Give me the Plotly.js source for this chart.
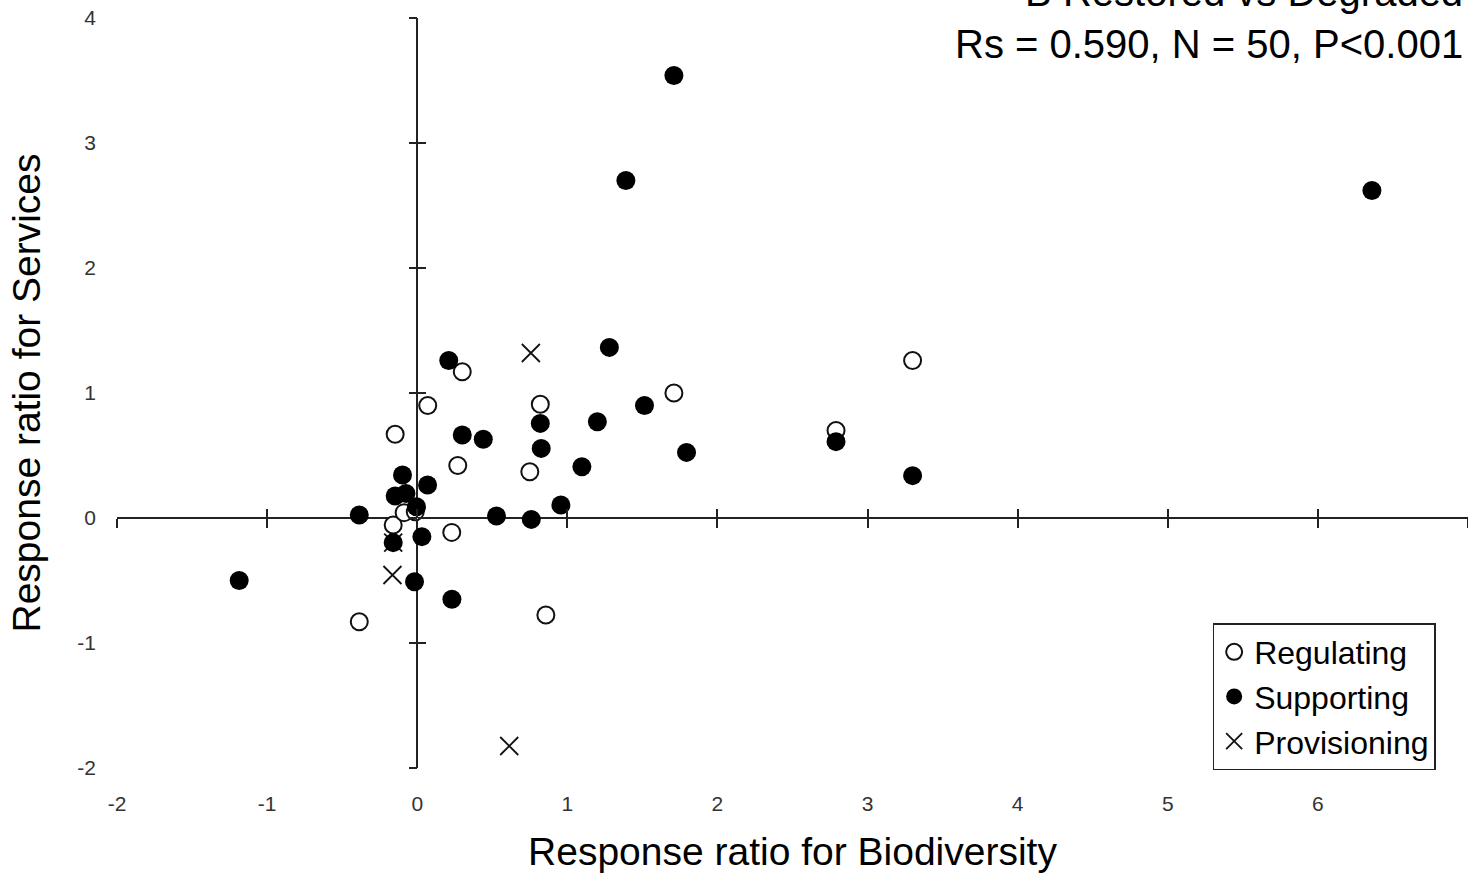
<!DOCTYPE html>
<html>
<head>
<meta charset="utf-8">
<script src="https://cdn.plot.ly/plotly-3.0.1.min.js"></script>
<style>html,body{margin:0;padding:0;background:#fff;}#chart{width:1468px;height:873px;}</style>
</head>
<body>
<div id="chart"></div>
<script>
// Data
const regulatingX = [0.30, 0.07, -0.147, 0.82, 1.71, 3.30, 2.79, 0.75, 0.27, 0.23, -0.16, -0.087, -0.013, -0.386, 0.857];
const regulatingY = [1.17, 0.90, 0.67, 0.91, 1.00, 1.26, 0.70, 0.37, 0.42, -0.115, -0.056, 0.043, 0.05, -0.83, -0.776];

const supportingX = [1.71, 1.39, 6.36, 0.21, 1.28, 1.514, 1.20, 0.82, 0.826, 0.30, 0.44, 1.794, 2.79, 3.30, 1.097, -0.098, 0.069, -0.147, -0.075, -0.005, -0.386, 0.528, 0.76, 0.957, -0.16, 0.031, -0.018, 0.231, -1.186];
const supportingY = [3.54, 2.70, 2.62, 1.26, 1.365, 0.90, 0.77, 0.757, 0.557, 0.664, 0.63, 0.525, 0.611, 0.339, 0.41, 0.344, 0.264, 0.176, 0.197, 0.09, 0.024, 0.016, -0.011, 0.104, -0.197, -0.149, -0.51, -0.65, -0.50];

const provisioningX = [0.757, -0.165, 0.613, -0.16];
const provisioningY = [1.32, -0.456, -1.824, -0.197];

const xTicks = [-2, -1, 0, 1, 2, 3, 4, 5, 6, 7];
const yTicks = [-2, -1, 0, 1, 2, 3, 4];
const seriesNames = ["Regulating", "Supporting", "Provisioning"];
const titleLines = ["B Restored vs Degraded", "Rs = 0.590, N = 50, P<0.001"];
const xTitle = "Response ratio for Biodiversity";
const yTitle = "Response ratio for Services";

const FONT = "Liberation Sans, Arial, sans-serif";
const INK = "#222";

const traces = [
  {
    x: regulatingX, y: regulatingY, name: seriesNames[0], mode: "markers", type: "scatter",
    marker: {symbol: "circle", size: 17, color: "#fff", line: {color: "#111", width: 2}},
    legendrank: 1
  },
  {
    x: provisioningX, y: provisioningY, name: seriesNames[2], mode: "markers", type: "scatter",
    marker: {symbol: "x-thin-open", size: 18, color: "#111", line: {color: "#111", width: 1.8}},
    legendrank: 3
  },
  {
    x: supportingX, y: supportingY, name: seriesNames[1], mode: "markers", type: "scatter",
    marker: {symbol: "circle", size: 19, color: "#000", line: {width: 0}},
    legendrank: 2
  },
  // empty carriers for the tick-mark axes drawn on the crossing axis lines
  {x: [], y: [], xaxis: "x2", yaxis: "y", showlegend: false, hoverinfo: "skip", type: "scatter"},
  {x: [], y: [], xaxis: "x3", yaxis: "y", showlegend: false, hoverinfo: "skip", type: "scatter"},
  {x: [], y: [], xaxis: "x", yaxis: "y2", showlegend: false, hoverinfo: "skip", type: "scatter"},
  {x: [], y: [], xaxis: "x", yaxis: "y3", showlegend: false, hoverinfo: "skip", type: "scatter"}
];

const xr = [xTicks[0], xTicks[xTicks.length - 1]];
const yr = [yTicks[0], yTicks[yTicks.length - 1]];
const yZeroPos = (0 - yr[0]) / (yr[1] - yr[0]);
const xZeroPos = (0 - xr[0]) / (xr[1] - xr[0]);

const tickAxisX = (dir) => ({
  overlaying: "x", anchor: "free", position: yZeroPos, side: "bottom",
  range: xr, tickvals: xTicks, ticks: dir, ticklen: 9, tickwidth: 1.5, tickcolor: INK,
  showticklabels: false, showgrid: false, zeroline: false, showline: false
});
const tickAxisY = (dir) => ({
  overlaying: "y", anchor: "free", position: xZeroPos, side: "left",
  range: yr, tickvals: yTicks, ticks: dir, ticklen: 8, tickwidth: 1.5, tickcolor: INK,
  showticklabels: false, showgrid: false, zeroline: false, showline: false
});

const layout = {
  width: 1468, height: 873,
  margin: {l: 117, r: 0, t: 18, b: 105},
  paper_bgcolor: "#fff", plot_bgcolor: "#fff",
  font: {family: FONT, color: INK},
  showlegend: true,
  legend: {
    x: 0.811, y: 0.1933, xanchor: "left", yanchor: "top",
    bordercolor: "#222", borderwidth: 1.5, bgcolor: "#fff",
    font: {family: FONT, size: 32, color: "#000"},
    tracegroupgap: 0, itemwidth: 30
  },
  xaxis: {
    range: xr, tickvals: xTicks, ticktext: xTicks.map(String),
    ticks: "", showline: false, showgrid: false,
    zeroline: true, zerolinecolor: INK, zerolinewidth: 1.5,
    tickfont: {family: FONT, size: 21, color: "#333"}, ticklabelstandoff: 21,
    title: {text: xTitle, font: {family: FONT, size: 39, color: "#000"}, standoff: 24}
  },
  yaxis: {
    range: yr, tickvals: yTicks, ticktext: yTicks.map(String),
    ticks: "", showline: false, showgrid: false,
    zeroline: true, zerolinecolor: INK, zerolinewidth: 1.5,
    tickfont: {family: FONT, size: 21, color: "#333"}, ticklabelstandoff: 20,
    title: {text: yTitle, font: {family: FONT, size: 39, color: "#000"}, standoff: 24}
  },
  xaxis2: tickAxisX("outside"),
  xaxis3: tickAxisX("inside"),
  yaxis2: tickAxisY("outside"),
  yaxis3: tickAxisY("inside"),
  annotations: [{
    xref: "paper", yref: "paper", x: 1, y: 0.9333, xanchor: "right", yanchor: "bottom",
    xshift: -3, align: "right", showarrow: false,
    text: titleLines.join("<br>"),
    font: {family: FONT, size: 40, color: "#000"}
  }]
};

Plotly.newPlot("chart", traces, layout, {displayModeBar: false, responsive: false});
</script>
</body>
</html>
